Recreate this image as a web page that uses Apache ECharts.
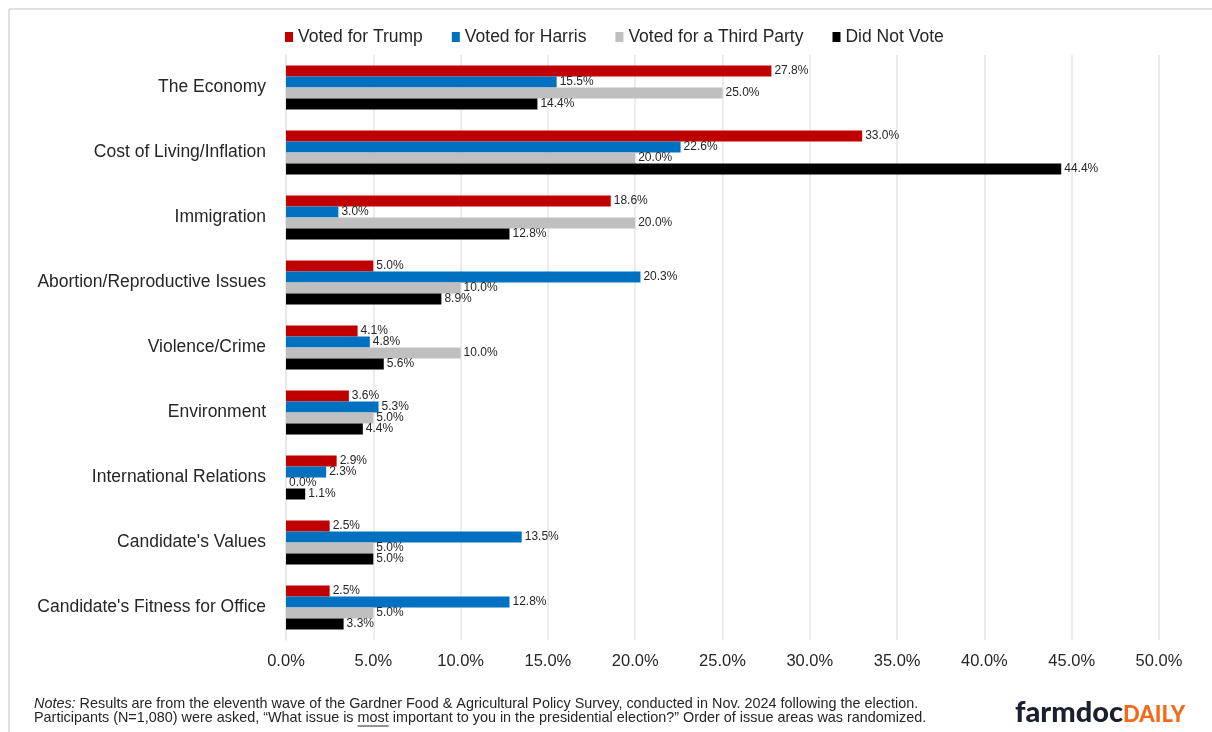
<!DOCTYPE html>
<html><head><meta charset="utf-8">
<script src="https://cdn.jsdelivr.net/npm/echarts@6/dist/echarts.min.js"></script>
<style>html,body{margin:0;padding:0;background:#fff}#c{width:1212px;height:732px}</style>
</head><body><div id="c"></div>
<script>
const categories = ["The Economy","Cost of Living/Inflation","Immigration","Abortion/Reproductive Issues","Violence/Crime","Environment","International Relations","Candidate's Values","Candidate's Fitness for Office"];
const seriesNames = ["Voted for Trump","Voted for Harris","Voted for a Third Party","Did Not Vote"];
const trump = [27.8,33.0,18.6,5.0,4.1,3.6,2.9,2.5,2.5];
const harris = [15.5,22.6,3.0,20.3,4.8,5.3,2.3,13.5,12.8];
const thirdParty = [25.0,20.0,20.0,10.0,10.0,5.0,0.0,5.0,5.0];
const didNotVote = [14.4,44.4,12.8,8.9,5.6,4.4,1.1,5.0,3.3];
const colors = ["#c00000","#0070c0","#bfbfbf","#000000"];
const notes1 = "Results are from the eleventh wave of the Gardner Food & Agricultural Policy Survey, conducted in Nov. 2024 following the election.";
const notes2a = "Participants (N=1,080) were asked, \u201cWhat issue is ";
const notes2b = "most";
const notes2c = " important to you in the presidential election?\u201d Order of issue areas was randomized.";

const FONT = "Liberation Sans, Arial, sans-serif";
const notesSize = 14.4;
const mctx = document.createElement('canvas').getContext('2d');
mctx.font = notesSize + "px " + FONT;
const ulX = 34 + mctx.measureText(notes2a).width;
const ulW = mctx.measureText(notes2b).width;

const data = [trump, harris, thirdParty, didNotVote];
const chart = echarts.init(document.getElementById('c'));
chart.setOption({
  animation:false,
  textStyle:{fontFamily:FONT},
  color:colors,
  legend:{top:23,left:280,itemWidth:8,itemHeight:10,itemGap:29,icon:'rect',
    textStyle:{fontSize:17.5,color:'#262626',fontFamily:FONT},data:seriesNames},
  grid:{left:286,right:53,top:55,bottom:92,containLabel:false},
  xAxis:{type:'value',min:0,max:50,interval:5,
    axisLabel:{fontSize:16.5,color:'#262626',margin:13,formatter:v=>v.toFixed(1)+'%'},
    splitLine:{lineStyle:{color:'#e6e6e6',width:1.5}},axisLine:{show:false},axisTick:{show:false}},
  yAxis:{type:'category',data:categories,inverse:true,
    axisLabel:{fontSize:17.5,color:'#262626',margin:20},
    axisLine:{show:true,lineStyle:{color:'#e6e6e6',width:1.5}},axisTick:{show:false}},
  series: seriesNames.map((n,i)=>({
    name:n,type:'bar',data:data[i],barWidth:11,barGap:'0%',
    itemStyle:{color:colors[i]},
    label:{show:true,position:'right',distance:3,fontSize:12,color:'#262626',formatter:p=>p.value.toFixed(1)+'%'}
  })),
  graphic:[
    {type:'line',shape:{x1:9,y1:9,x2:1212,y2:9},style:{stroke:'#d6d6d6',lineWidth:1.5},silent:true},
    {type:'line',shape:{x1:9,y1:9,x2:9,y2:732},style:{stroke:'#d6d6d6',lineWidth:1.5},silent:true},
    {type:'text',left:34,top:697,style:{text:'{i|Notes:} '+notes1,rich:{i:{fontStyle:'italic',fontSize:notesSize,fill:'#262626',fontFamily:FONT}},fontSize:notesSize,fill:'#262626',fontFamily:FONT}},
    {type:'text',left:34,top:711,style:{text:notes2a+notes2b+notes2c,fontSize:notesSize,fill:'#262626',fontFamily:FONT}},
    {type:'line',shape:{x1:ulX,y1:726,x2:ulX+ulW,y2:726},style:{stroke:'#262626',lineWidth:1}},
    {type:'text',left:1015,top:698,style:{text:'{a|farmdoc}{b|DAILY}',rich:{
      a:{fontSize:29,fontWeight:900,fill:'#1b2030',fontFamily:'Lato, sans-serif',verticalAlign:'bottom'},
      b:{fontSize:22,fontWeight:900,fill:'#f26b1d',fontFamily:'Lato, sans-serif',verticalAlign:'bottom',padding:[0,0,1,0]}}}}
  ]
});
</script></body></html>
